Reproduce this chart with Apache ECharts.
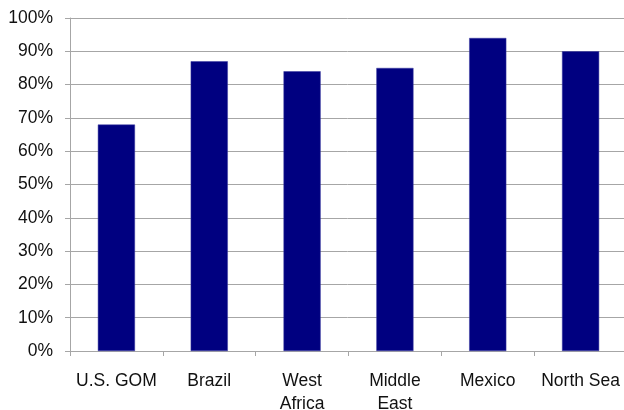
<!DOCTYPE html>
<html>
<head>
<meta charset="utf-8">
<script src="https://cdn.jsdelivr.net/npm/echarts@6/dist/echarts.min.js"></script>
<style>
  html, body { margin: 0; padding: 0; background: #fff; }
  #chart { width: 624px; height: 410px; }
</style>
</head>
<body>
<div id="chart"></div>
<script>
// Regions and their share (percent)
const regions = ['U.S. GOM', 'Brazil', 'West\nAfrica', 'Middle\nEast', 'Mexico', 'North Sea'];
const shares = [68, 87, 84, 85, 94, 90];
const yTicks = { min: 0, max: 100, step: 10 };

const chart = echarts.init(document.getElementById('chart'), null, { renderer: 'canvas' });

const labelFont = {
  color: '#111',
  fontFamily: 'Liberation Sans, Arial, sans-serif',
  fontSize: 17.5
};

chart.setOption({
  animation: false,
  backgroundColor: '#ffffff',
  // fixed plot rectangle; two-line labels are allowed to run past the bottom edge
  grid: { left: 70, right: -3, top: 18, bottom: 59, containLabel: false, outerBoundsMode: 'none' },
  xAxis: {
    type: 'category',
    data: regions,
    boundaryGap: true,
    axisLine: { show: true, lineStyle: { color: '#a6a6a6', width: 1 } },
    axisTick: { show: true, length: 5, alignWithLabel: false, lineStyle: { color: '#a6a6a6' } },
    axisLabel: Object.assign({ interval: 0, margin: 19, lineHeight: 23 }, labelFont),
    splitLine: { show: false }
  },
  yAxis: {
    type: 'value',
    min: yTicks.min,
    max: yTicks.max,
    interval: yTicks.step,
    axisLine: { show: true, lineStyle: { color: '#a6a6a6', width: 1 } },
    axisTick: { show: true, length: 5, lineStyle: { color: '#a6a6a6' } },
    axisLabel: Object.assign({ margin: 17, formatter: v => v + '%' }, labelFont),
    splitLine: { show: true, lineStyle: { color: '#a6a6a6', width: 1 } }
  },
  series: [{
    type: 'bar',
    data: shares,
    barWidth: '40%',
    itemStyle: { color: '#000080', borderColor: '#3a3aa0', borderWidth: 0.5 }
  }]
});
</script>
</body>
</html>
